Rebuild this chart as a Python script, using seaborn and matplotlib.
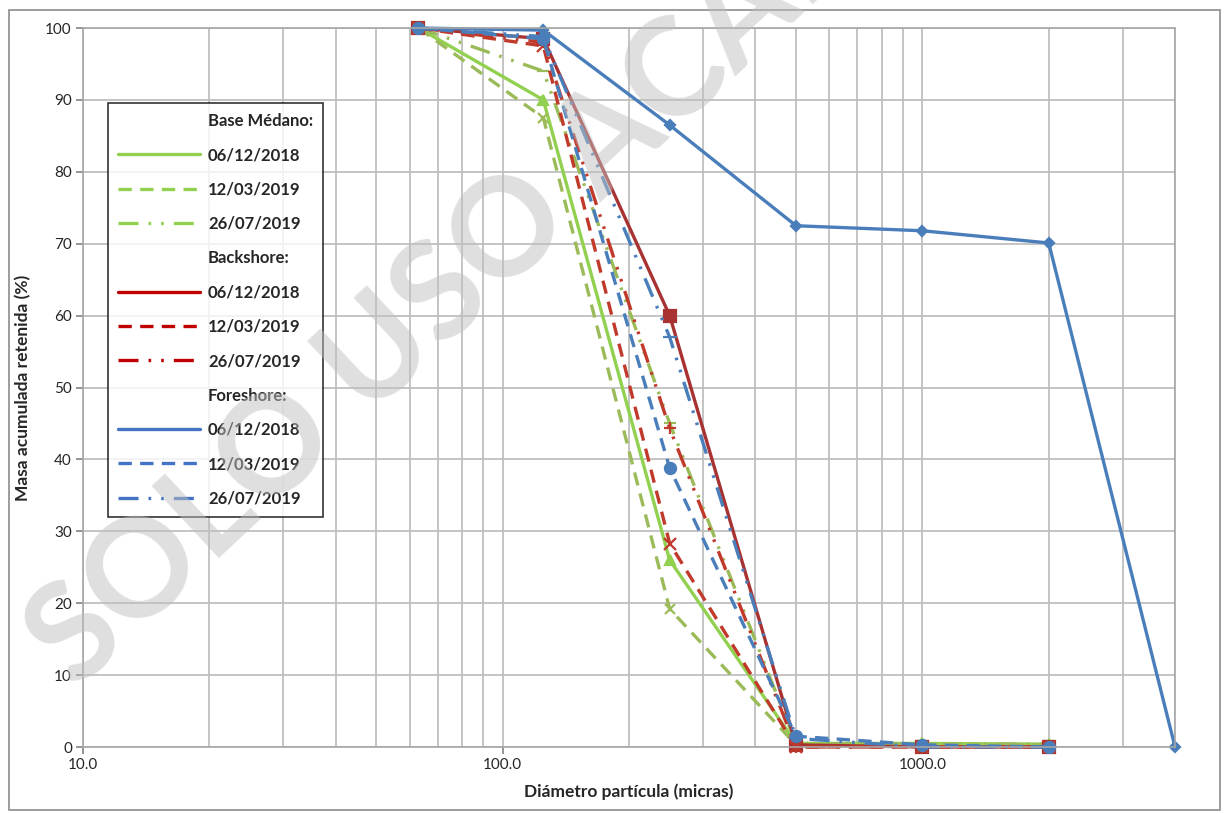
import matplotlib
matplotlib.use("Agg")

import matplotlib.pyplot as plt
import seaborn as sns
import pandas as pd
from matplotlib.lines import Line2D
from matplotlib.patches import Rectangle
from matplotlib.ticker import FixedLocator, FixedFormatter, NullFormatter

sns.set_theme(style="white")
plt.rcParams["font.family"] = ["Lato", "DejaVu Sans"]

# sieve openings (micras)
sizes = [63, 125, 250, 500, 1000, 2000]
sizes_fs1 = [63, 125, 250, 500, 1000, 2000, 4000]

# masa acumulada retenida (%)
bm_2018 = [100, 90.0, 26.0, 0.5, 0.5, 0.4]
bm_0319 = [100, 87.5, 19.2, 0.3, 0.3, 0.3]
bm_0719 = [100, 94.0, 45.0, 0.5, 0.4, 0.4]
bs_2018 = [100, 98.5, 60.0, 0.3, 0.0, 0.0]
bs_0319 = [100, 97.5, 28.3, 0.0, 0.0, 0.0]
bs_0719 = [100, 98.0, 44.3, 0.0, 0.0, 0.0]
fs_2018 = [100, 99.7, 86.5, 72.5, 71.8, 70.1, 0.0]
fs_0319 = [100, 98.5, 38.8, 1.5, 0.3, 0.0]
fs_0719 = [100, 98.8, 57.0, 1.2, 0.0, 0.0]

dates = ["06/12/2018", "12/03/2019", "26/07/2019"]
groups = ["Base Médano:", "Backshore:", "Foreshore:"]

green = "#92D050"
green2 = "#9BBB59"
red = "#A83232"
red2 = "#C0392B"
red_leg = "#C00000"
blue = "#4A7EBB"
blue_leg = "#4472C4"

solid = "-"
dashed = (0, (4, 2.5))
dashdot = (0, (6, 3, 0.8, 3, 0.8, 3))

series = [
    (sizes, bm_2018, green, solid, "^", 7),
    (sizes, bm_0319, green2, dashed, "x", 7),
    (sizes, bm_0719, green2, dashdot, "_", 9),
    (sizes, bs_2018, red, solid, "s", 8),
    (sizes, bs_0319, red2, dashed, "x", 8),
    (sizes, bs_0719, red2, dashdot, "+", 9),
    (sizes_fs1, fs_2018, blue, solid, "D", 5),
    (sizes, fs_0319, blue, dashed, "o", 8),
    (sizes, fs_0719, blue, dashdot, "_", 10),
]

fig = plt.figure(figsize=(12.24, 8.14), dpi=100)
ax = fig.add_axes([0.0678, 0.0823, 0.8922, 0.8833])

for xs, ys, col, ls, mk, ms in series:
    df = pd.DataFrame({"x": xs, "y": ys})
    sns.lineplot(data=df, x="x", y="y", ax=ax, color=col, linestyle=ls,
                 linewidth=2.4, marker=mk, markersize=ms, markeredgewidth=1.6,
                 markeredgecolor=col, sort=False, clip_on=False)

ax.set_xscale("log")
ax.set_xlim(10, 4000)
ax.set_ylim(0, 100)
ax.set_yticks(range(0, 101, 10))
ax.xaxis.set_major_locator(FixedLocator([10, 100, 1000]))
ax.xaxis.set_major_formatter(FixedFormatter(["10.0", "100.0", "1000.0"]))
minors = [m * d for d in (10, 100, 1000) for m in range(2, 10) if m * d <= 4000]
ax.xaxis.set_minor_locator(FixedLocator(minors))
ax.xaxis.set_minor_formatter(NullFormatter())
ax.grid(True, which="both", color="#BFBFBF", linewidth=1.3)
ax.set_axisbelow(True)
for s in ax.spines.values():
    s.set_color("#A6A6A6")
    s.set_linewidth(1.2)
ax.tick_params(axis="both", which="major", labelsize=11, length=5, color="#888888",
               direction="out", bottom=True, left=True, pad=3)
ax.tick_params(axis="x", which="minor", length=0)
ax.set_xlabel("Diámetro partícula (micras)", fontsize=12.5, fontweight="bold", labelpad=8)
ax.set_ylabel("Masa acumulada retenida (%)", fontsize=12.5, fontweight="bold", labelpad=10)

# legend with group headers
blank = Line2D([], [], color="none")
handles, labels = [], []
for g, c in zip(groups, [green, red_leg, blue_leg]):
    handles.append(blank)
    labels.append(g)
    for d, ls in zip(dates, [solid, dashed, dashdot]):
        handles.append(Line2D([], [], color=c, linestyle=ls, linewidth=2.4))
        labels.append(d)
leg = ax.legend(handles, labels, loc="upper left", bbox_to_anchor=(0.0229, 0.8957),
                borderaxespad=0, frameon=True, fancybox=False, edgecolor="black",
                handlelength=4.9, handletextpad=0.5, labelspacing=1.1,
                borderpad=0.6, prop={"weight": "bold", "size": 12})
leg.get_frame().set_linewidth(1.2)

# outer chart border
fig.patches.append(Rectangle((0.007, 0.005), 0.99, 0.983, transform=fig.transFigure,
                             fill=False, edgecolor="#8C8C8C", linewidth=1.2))

# watermark
fig.text(0.062, 0.151, "SOLO USO ACADÉMICO", fontsize=98, fontweight="bold",
         color="#BFBFBF", alpha=0.5, rotation=43, rotation_mode="anchor",
         ha="left", va="baseline", zorder=10)

fig.savefig("out.png", dpi=100)
